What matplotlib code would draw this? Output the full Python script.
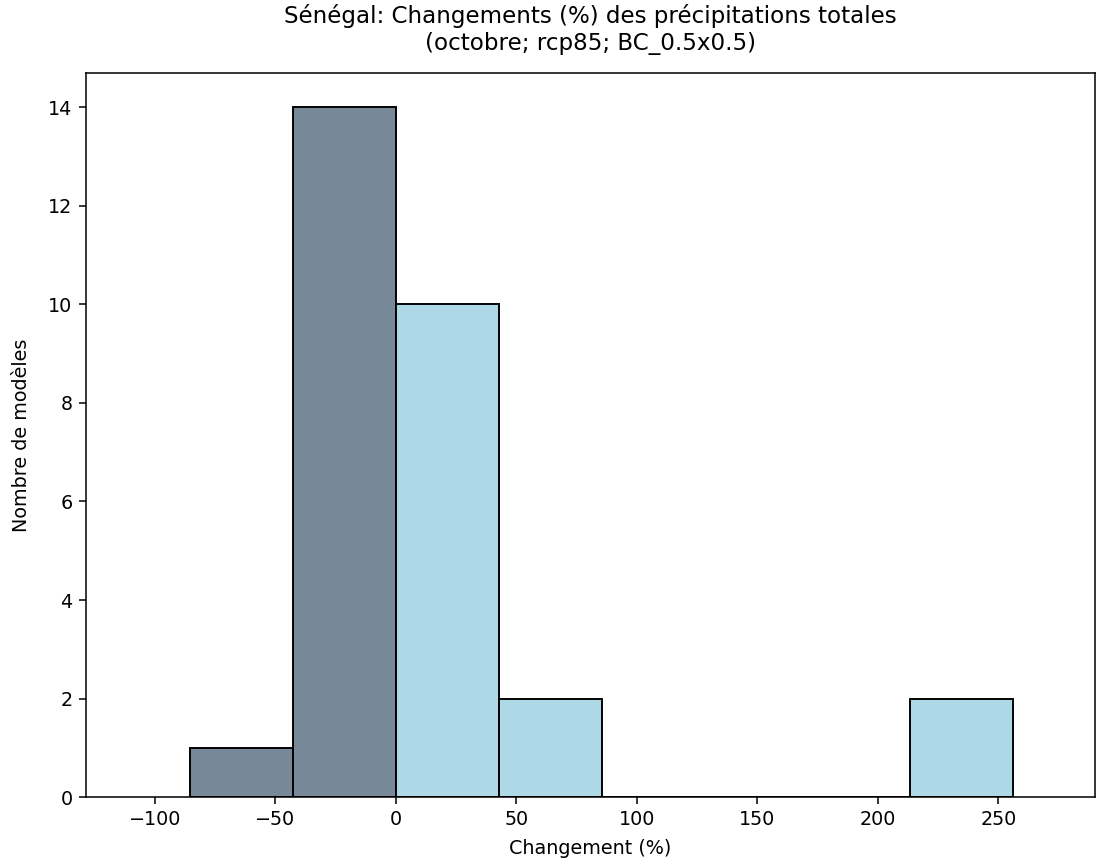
import numpy as np
import matplotlib
matplotlib.use('Agg')
import matplotlib.pyplot as plt

bin_edges = [-85.5, -42.7, 0.0, 42.7, 85.4, 128.1, 170.8, 213.5, 256.2]
counts = [1, 14, 10, 2, 0, 0, 0, 2]

edges = np.array(bin_edges)
widths = np.diff(edges)
colors = ['lightslategray' if e < 0 else 'lightblue' for e in edges[:-1]]

dpi = 138
fig = plt.figure(figsize=(1107 / dpi, 865 / dpi), dpi=dpi)
ax = fig.add_axes([0.0777, 0.0786, 0.9113, 0.837])
ax.bar(edges[:-1], counts, width=widths, align='edge', color=colors, edgecolor='black')
ax.set_xlim(-128.6, 290)
ax.set_xlabel('Changement (%)', labelpad=5)
ax.set_ylabel('Nombre de modèles', labelpad=9)
ax.set_title('Sénégal: Changements (%) des précipitations totales\n(octobre; rcp85; BC_0.5x0.5)',
             pad=12)
fig.savefig('out.png', dpi=dpi)
